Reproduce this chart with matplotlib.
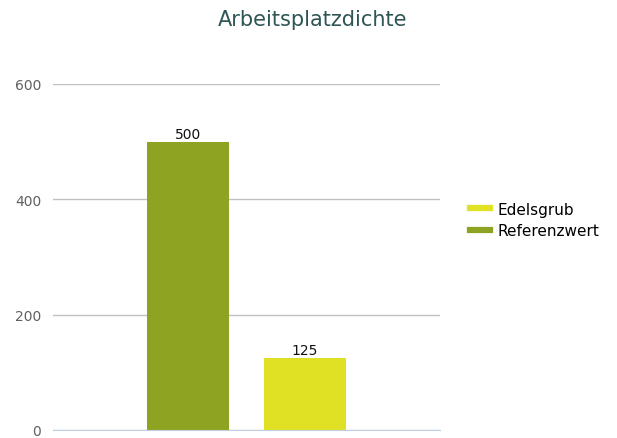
import matplotlib
matplotlib.use("Agg")
import matplotlib.pyplot as plt
from matplotlib.lines import Line2D

# data
categories = ["Referenzwert", "Edelsgrub"]
values = [500, 125]
colors = ["#8ea322", "#e0e124"]
yticks = [0, 200, 400, 600]

fig = plt.figure(figsize=(6.17, 4.39), dpi=100)
ax = fig.add_axes([53/617, 1-431/439, 387/617, 346/439])

x = range(len(categories))
bars = ax.bar(x, values, width=82/116, color=colors, zorder=3)
for b, v in zip(bars, values):
    ax.text(b.get_x() + b.get_width()/2, v + 2, str(v), ha="center", va="bottom",
            fontsize=10, color="#111111", zorder=4)

ax.set_xlim(-1.168, 2.168)
ax.set_ylim(0, 600)
ax.set_yticks(yticks)
ax.set_xticks([])
ax.yaxis.grid(True, color="#c0c0c0", linewidth=1, zorder=0)
ax.tick_params(axis="y", length=0, labelsize=10, labelcolor="#606060", pad=8.5)
for s in ["top", "right", "left"]:
    ax.spines[s].set_visible(False)
ax.spines["bottom"].set_color("#c0d0e0")
ax.spines["bottom"].set_zorder(5)

fig.text(313/617, 1-20/439, "Arbeitsplatzdichte", ha="center", va="center",
         fontsize=15, color="#2f5555")

handles = [Line2D([], [], color=colors[1], linewidth=4.5),
           Line2D([], [], color=colors[0], linewidth=4.5)]
fig.legend(handles, ["Edelsgrub", "Referenzwert"], loc="center left",
           bbox_to_anchor=(458/617, 1-221/439), frameon=False, fontsize=11,
           handlelength=1.3, handletextpad=0.5, labelspacing=0.45,
           borderpad=0.3)

fig.savefig("out.png", dpi=100)
